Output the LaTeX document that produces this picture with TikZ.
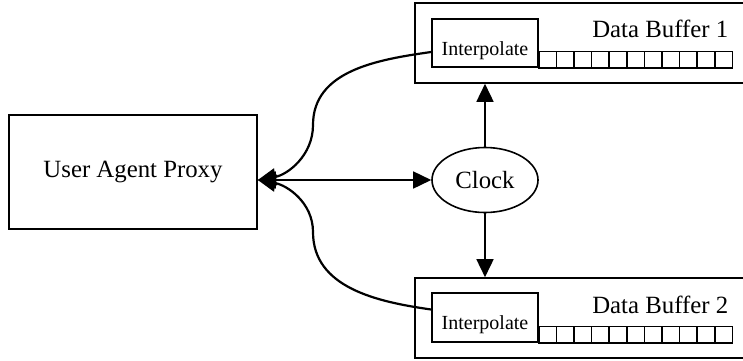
\documentclass[tikz,border=0pt]{standalone}
\usepackage{fontspec}
\setmainfont{Liberation Serif}
\usetikzlibrary{arrows.meta,shapes.geometric}

\tikzset{box/.style={draw,rectangle,inner sep=0pt},
  bigtext/.style={font=\fontsize{12.4}{14}\selectfont},
  smalltext/.style={font=\fontsize{10}{12}\selectfont}}

\begin{document}
\begin{tikzpicture}[x=0.5pt,y=0.5pt,thick,>={Triangle[length=9pt,width=8.5pt]}]
\useasboundingbox (0,0) rectangle (743,360);
\node[box,bigtext,minimum width=124pt,minimum height=57pt] (uap) at (133,188) {User Agent Proxy};
\node[draw,ellipse,bigtext,minimum width=53pt,minimum height=32.5pt,inner sep=0pt] (clock) at (485,180) {Clock};
% the two buffers
\node[box,minimum width=165pt,minimum height=40pt] (buf1) at (580,317) {};
\node[box,minimum width=165pt,minimum height=40pt] (buf2) at (580,42) {};
\node[box,smalltext,minimum width=53pt,minimum height=24pt,text height=14pt,text depth=2pt] (interp1) at (485,317) {Interpolate};
\node[box,smalltext,minimum width=53pt,minimum height=24.5pt,text height=14pt,text depth=2pt] (interp2) at (485,42.5) {Interpolate};
\node[bigtext,anchor=base east,inner sep=0pt] (name1) at (729,323) {Data Buffer 1};
\node[bigtext,anchor=base east,inner sep=0pt] (name2) at (729,47) {Data Buffer 2};
\foreach \i in {0,...,10} {
  \draw ([xshift=\i*8.8pt]interp1.south east) rectangle ++(17.6,16.5);
  \draw ([xshift=\i*8.8pt]interp2.south east) rectangle ++(17.6,16.5);
}
% arrows
\coordinate (port) at (uap.east |- clock.west);
\coordinate (bend1) at (313,235);
\coordinate (bend2) at (313,128);
\draw[<->] (port) -- (clock.west);
\draw[->] (clock.north) -- (clock.north |- buf1.south);
\draw[->] (clock.south) -- (clock.south |- buf2.north);
\draw[->,line width=1.1pt] ([yshift=-4.5pt]interp1.west) to[out=188,in=90] (bend1) to[out=-90,in=10] (port);
\draw[->,line width=1.1pt] ([yshift=4pt]interp2.west) to[out=172,in=-90] (bend2) to[out=90,in=-10] (port);
\end{tikzpicture}
\end{document}
